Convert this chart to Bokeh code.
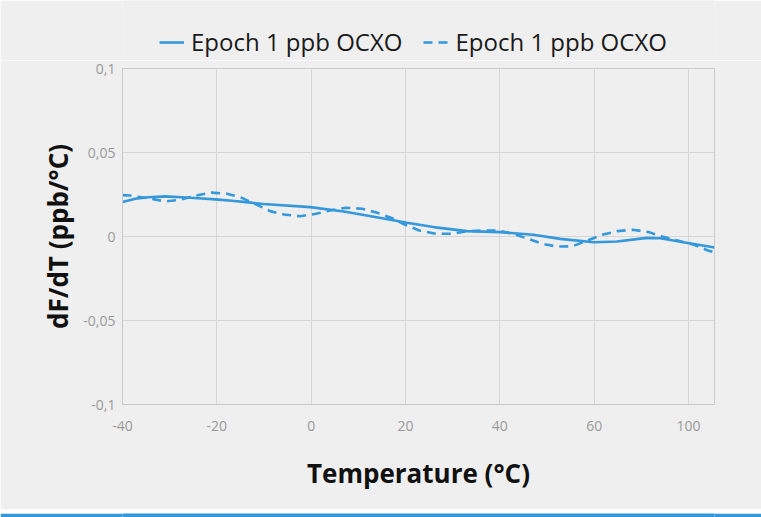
from bokeh.plotting import figure
from bokeh.models import (FixedTicker, CustomJSTickFormatter, Legend, LegendItem,
                          Range1d, ColumnDataSource)
from bokeh.layouts import column
from bokeh.embed import file_html
from bokeh.resources import INLINE

series_name = "Epoch 1 ppb OCXO"

solid_temp = [-40.0, -37.3, -34.5, -30.9, -27.4, -23.9, -20.3, -16.8, -13.3, -10.1,
              -0.2, 6.9, 13.9, 20.3, 25.9, 33.0, 40.1, 47.1, 52.8, 54.9,
              59.9, 64.8, 71.2, 74.0, 78.9, 85.5]
solid_dfdt = [0.0205, 0.0225, 0.0234, 0.0239, 0.0234, 0.0228, 0.0221, 0.0213, 0.0203, 0.0193,
              0.0175, 0.0149, 0.0115, 0.0082, 0.0056, 0.0032, 0.0026, 0.0010, -0.0014, -0.0020,
              -0.0034, -0.0030, -0.0008, -0.0010, -0.0034, -0.0065]

dashed_temp = [-40.0, -38.4, -34.1, -30.9, -27.8, -24.4, -21.2, -17.9, -14.8, -11.7,
               -8.7, -5.8, -2.3, 1.0, 4.0, 7.4, 10.8, 14.0, 17.2, 19.9,
               22.9, 26.4, 29.7, 32.7, 36.3, 39.4, 42.8, 46.0, 49.1, 52.1,
               55.4, 58.5, 61.7, 64.9, 68.2, 71.6, 74.4, 77.7, 81.0, 84.1, 85.5]
dashed_dfdt = [0.0246, 0.0244, 0.0225, 0.0209, 0.0219, 0.0244, 0.0261, 0.0255, 0.0231, 0.0191,
               0.0151, 0.0131, 0.0121, 0.0135, 0.0155, 0.0171, 0.0165, 0.0141, 0.0109, 0.0070,
               0.0036, 0.0016, 0.0016, 0.0030, 0.0036, 0.0036, 0.0016, -0.0014, -0.0044, -0.0060,
               -0.0058, -0.0024, 0.0010, 0.0032, 0.0040, 0.0026, 0.0000, -0.0024, -0.0048, -0.0083,
               -0.0095]

x_ticks = [-40, -20, 0, 20, 40, 60, 80]
x_tick_labels = ["-40", "-20", "0", "20", "40", "60", "100"]
y_ticks = [-0.1, -0.05, 0, 0.05, 0.1]
y_tick_labels = ["-0,1", "-0,05", "0", "0,05", "0,1"]

x_title = "Temperature (°C)"
y_title = "dF/dT (ppb/°C)"

BLUE = "#3498db"
BG = "#efefef"
FONT = "Open Sans"
W = 761
LEG_H, PLOT_H, BAR_H = 60, 449, 8

solid_src = ColumnDataSource(dict(t=solid_temp, v=solid_dfdt))
dashed_src = ColumnDataSource(dict(t=dashed_temp, v=dashed_dfdt))
line_styles = [dict(line_color=BLUE, line_width=2.6),
               dict(line_color=BLUE, line_width=2.6, line_dash="9 6")]

# ---- legend strip (top) ----
leg_fig = figure(width=W, height=LEG_H, output_backend="svg", toolbar_location=None,
                 background_fill_color=BG, border_fill_color=BG,
                 min_border=0, x_axis_location=None, y_axis_location=None,
                 x_range=Range1d(-40, 85.5), y_range=Range1d(-0.1, 0.1))
leg_fig.outline_line_color = None
leg_fig.grid.visible = False
lr1 = leg_fig.line("t", "v", source=solid_src, visible=False, **line_styles[0])
lr2 = leg_fig.line("t", "v", source=dashed_src, visible=False, **line_styles[1])
legend = Legend(items=[LegendItem(label=series_name, renderers=[lr1]),
                       LegendItem(label=series_name, renderers=[lr2])],
                orientation="horizontal", location=(37, 2),
                label_text_font=FONT, label_text_font_size="24px", label_text_color="#1a1a1a",
                glyph_width=25, label_standoff=7, spacing=21,
                border_line_color=None, background_fill_alpha=0,
                inactive_fill_alpha=0, padding=2, margin=0)
leg_fig.add_layout(legend, "center")

# ---- main plot ----
p = figure(width=W, height=PLOT_H, x_range=Range1d(-40, 85.5), y_range=Range1d(-0.1, 0.1),
           output_backend="svg", toolbar_location=None,
           background_fill_color=BG, border_fill_color=BG,
           min_border_left=122, min_border_right=47, min_border_top=8, min_border_bottom=105)
p.outline_line_color = "#cccccc"
p.outline_line_width = 1

p.line("t", "v", source=solid_src, **line_styles[0])
p.line("t", "v", source=dashed_src, **line_styles[1])

def fmt(tvals, tlabels):
    return CustomJSTickFormatter(args=dict(tvals=tvals, tlabels=tlabels), code="""
        for (let i = 0; i < tvals.length; i++) {
            if (Math.abs(tvals[i] - tick) < 1e-9) return tlabels[i];
        }
        return '';
    """)

for ax, tv, tl in ((p.xaxis, x_ticks, x_tick_labels), (p.yaxis, y_ticks, y_tick_labels)):
    ax.ticker = FixedTicker(ticks=tv)
    ax.formatter = fmt(tv, tl)
    ax.major_tick_out = 0
    ax.major_tick_in = 0
    ax.minor_tick_out = 0
    ax.minor_tick_in = 0
    ax.axis_line_color = "#c8c8c8"
    ax.major_label_text_font = FONT
    ax.major_label_text_font_size = "14px"
    ax.major_label_text_color = "#9a9a9a"
    ax.axis_label_text_font = FONT
    ax.axis_label_text_font_style = "bold"
    ax.axis_label_text_font_size = "26px"
    ax.axis_label_text_color = "#111111"

p.xaxis.axis_label = x_title
p.yaxis.axis_label = y_title
p.xaxis.major_label_standoff = 16
p.xaxis.axis_label_standoff = 21
p.yaxis.major_label_standoff = 7
p.yaxis.axis_label_standoff = 4

p.xgrid.ticker = FixedTicker(ticks=x_ticks)
p.ygrid.ticker = FixedTicker(ticks=y_ticks)
p.grid.grid_line_color = "#d6d6d6"
p.grid.grid_line_width = 1

# ---- blue strip (bottom) ----
bar = figure(width=W, height=BAR_H, output_backend="svg", toolbar_location=None,
             background_fill_color=BLUE, border_fill_color=BLUE,
             min_border=0, x_axis_location=None, y_axis_location=None,
             x_range=Range1d(0, 1), y_range=Range1d(0, 1))
bar.outline_line_color = None
bar.grid.visible = False

layout = column(leg_fig, p, bar, spacing=0)
open("out.html", "w").write(file_html(layout, INLINE))
